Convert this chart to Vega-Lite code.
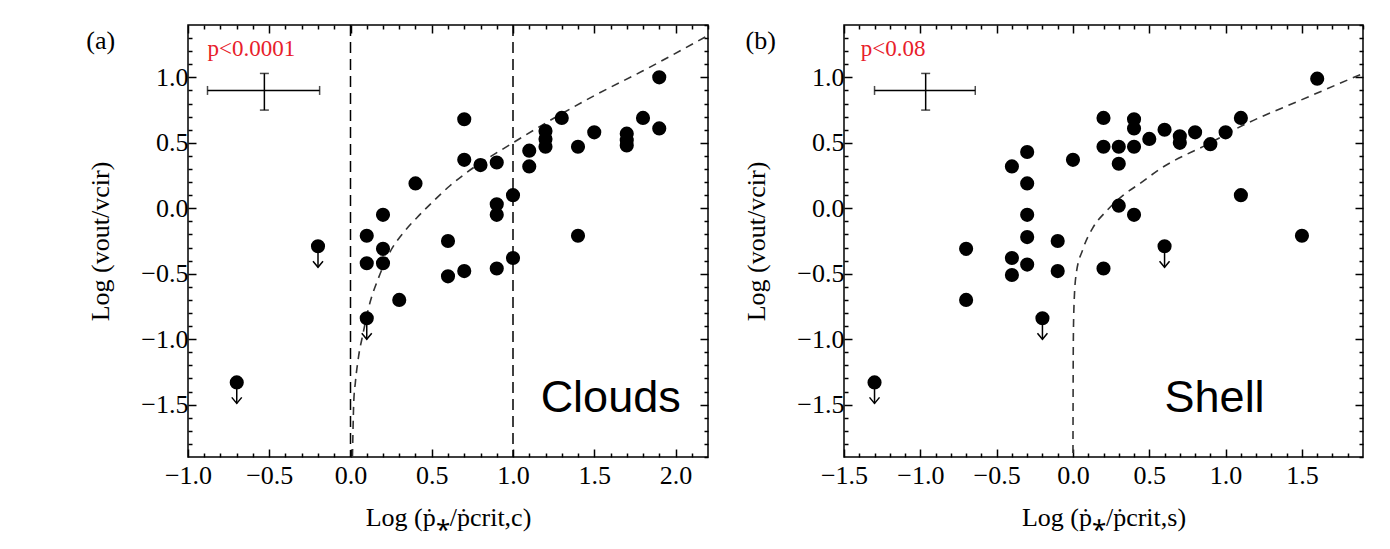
{
  "$schema": "https://vega.github.io/schema/vega-lite/v6.json",
  "background": "white",
  "padding": {"left": 85, "top": 23, "right": 5, "bottom": 5},
  "spacing": 33,
  "datasets": {
    "a_pts": [
      {"x": -0.7, "y": -1.33, "lim": 1}, {"x": -0.2, "y": -0.29, "lim": 1}, {"x": 0.1, "y": -0.84, "lim": 1},
      {"x": 0.1, "y": -0.21, "lim": 0}, {"x": 0.1, "y": -0.42, "lim": 0}, {"x": 0.2, "y": -0.05, "lim": 0},
      {"x": 0.2, "y": -0.31, "lim": 0}, {"x": 0.2, "y": -0.42, "lim": 0}, {"x": 0.3, "y": -0.70, "lim": 0},
      {"x": 0.4, "y": 0.19, "lim": 0}, {"x": 0.6, "y": -0.25, "lim": 0}, {"x": 0.6, "y": -0.52, "lim": 0},
      {"x": 0.7, "y": 0.68, "lim": 0}, {"x": 0.7, "y": 0.37, "lim": 0}, {"x": 0.7, "y": -0.48, "lim": 0},
      {"x": 0.8, "y": 0.33, "lim": 0}, {"x": 0.9, "y": 0.35, "lim": 0}, {"x": 0.9, "y": 0.03, "lim": 0},
      {"x": 0.9, "y": -0.05, "lim": 0}, {"x": 0.9, "y": -0.46, "lim": 0}, {"x": 1.0, "y": 0.10, "lim": 0},
      {"x": 1.0, "y": -0.38, "lim": 0}, {"x": 1.1, "y": 0.44, "lim": 0}, {"x": 1.1, "y": 0.32, "lim": 0},
      {"x": 1.2, "y": 0.59, "lim": 0}, {"x": 1.2, "y": 0.53, "lim": 0}, {"x": 1.2, "y": 0.47, "lim": 0},
      {"x": 1.3, "y": 0.69, "lim": 0}, {"x": 1.4, "y": 0.47, "lim": 0}, {"x": 1.4, "y": -0.21, "lim": 0},
      {"x": 1.5, "y": 0.58, "lim": 0}, {"x": 1.7, "y": 0.57, "lim": 0}, {"x": 1.7, "y": 0.52, "lim": 0},
      {"x": 1.7, "y": 0.48, "lim": 0}, {"x": 1.8, "y": 0.69, "lim": 0}, {"x": 1.9, "y": 1.0, "lim": 0},
      {"x": 1.9, "y": 0.61, "lim": 0}
    ],
    "b_pts": [
      {"x": -1.3, "y": -1.33, "lim": 1}, {"x": -0.7, "y": -0.31, "lim": 0}, {"x": -0.7, "y": -0.70, "lim": 0},
      {"x": -0.4, "y": 0.32, "lim": 0}, {"x": -0.4, "y": -0.38, "lim": 0}, {"x": -0.4, "y": -0.51, "lim": 0},
      {"x": -0.3, "y": 0.43, "lim": 0}, {"x": -0.3, "y": 0.19, "lim": 0}, {"x": -0.3, "y": -0.05, "lim": 0},
      {"x": -0.3, "y": -0.22, "lim": 0}, {"x": -0.3, "y": -0.43, "lim": 0}, {"x": -0.2, "y": -0.84, "lim": 1},
      {"x": -0.1, "y": -0.25, "lim": 0}, {"x": -0.1, "y": -0.48, "lim": 0}, {"x": 0.0, "y": 0.37, "lim": 0},
      {"x": 0.2, "y": 0.69, "lim": 0}, {"x": 0.2, "y": 0.47, "lim": 0}, {"x": 0.2, "y": -0.46, "lim": 0},
      {"x": 0.3, "y": 0.47, "lim": 0}, {"x": 0.3, "y": 0.34, "lim": 0}, {"x": 0.3, "y": 0.02, "lim": 0},
      {"x": 0.4, "y": 0.68, "lim": 0}, {"x": 0.4, "y": 0.61, "lim": 0}, {"x": 0.4, "y": 0.47, "lim": 0},
      {"x": 0.4, "y": -0.05, "lim": 0}, {"x": 0.5, "y": 0.53, "lim": 0}, {"x": 0.6, "y": 0.60, "lim": 0},
      {"x": 0.6, "y": -0.29, "lim": 1}, {"x": 0.7, "y": 0.55, "lim": 0}, {"x": 0.7, "y": 0.50, "lim": 0},
      {"x": 0.8, "y": 0.58, "lim": 0}, {"x": 0.9, "y": 0.49, "lim": 0}, {"x": 1.0, "y": 0.58, "lim": 0},
      {"x": 1.1, "y": 0.69, "lim": 0}, {"x": 1.1, "y": 0.10, "lim": 0}, {"x": 1.5, "y": -0.21, "lim": 0},
      {"x": 1.6, "y": 0.99, "lim": 0}
    ],
    "a_curve": [
      {"x": 0.012, "y": -1.9}, {"x": 0.015, "y": -1.72}, {"x": 0.02, "y": -1.48}, {"x": 0.03, "y": -1.33},
      {"x": 0.05, "y": -1.13}, {"x": 0.075, "y": -0.97}, {"x": 0.12, "y": -0.72}, {"x": 0.17, "y": -0.54},
      {"x": 0.245, "y": -0.33}, {"x": 0.33, "y": -0.18}, {"x": 0.41, "y": -0.07}, {"x": 0.49, "y": 0.03},
      {"x": 0.61, "y": 0.17}, {"x": 0.69, "y": 0.25}, {"x": 1.0, "y": 0.50}, {"x": 1.5, "y": 0.86},
      {"x": 1.8, "y": 1.05}, {"x": 2.2, "y": 1.32}
    ],
    "b_curve": [
      {"x": 0.0, "y": -1.87}, {"x": 0.002, "y": -1.07}, {"x": 0.006, "y": -0.77}, {"x": 0.02, "y": -0.51},
      {"x": 0.066, "y": -0.31}, {"x": 0.13, "y": -0.15}, {"x": 0.22, "y": -0.02}, {"x": 0.33, "y": 0.10},
      {"x": 0.44, "y": 0.19}, {"x": 0.57, "y": 0.30}, {"x": 0.9, "y": 0.50}, {"x": 1.09, "y": 0.62},
      {"x": 1.5, "y": 0.83}, {"x": 1.9, "y": 1.03}
    ],
    "a_vlines": [{"x": 0}, {"x": 1}],
    "a_err": [{"xc": -0.53, "xlo": -0.88, "xhi": -0.19, "yc": 0.9, "ylo": 0.75, "yhi": 1.03}],
    "b_err": [{"xc": -0.965, "xlo": -1.30, "xhi": -0.64, "yc": 0.9, "ylo": 0.75, "yhi": 1.03}],
    "a_p": [{"x": -0.88, "y": 1.16, "label": "p<0.0001"}],
    "b_p": [{"x": -1.39, "y": 1.16, "label": "p<0.08"}],
    "a_name": [{"x": 1.17, "y": -1.56, "label": "Clouds"}],
    "b_name": [{"x": 0.6, "y": -1.56, "label": "Shell"}],
    "a_tag": [{"x": -1.626, "y": 1.375, "label": "(a)"}],
    "b_tag": [{"x": -2.145, "y": 1.375, "label": "(b)"}]
  },
  "hconcat": [
    {
      "width": 520,
      "height": 432,
      "layer": [
        {
          "layer": [
            {
              "data": {"name": "a_vlines"},
              "mark": {"type": "rule", "strokeDash": [11, 6], "strokeWidth": 1.5, "color": "black"},
              "encoding": {"x": {"field": "x", "type": "quantitative", "title": "Log (ṗ⁎/ṗcrit,c)"}}
            },
            {
              "data": {"name": "a_curve"},
              "mark": {"type": "line", "strokeDash": [8, 6], "strokeWidth": 1.6, "color": "#333333", "interpolate": "monotone", "clip": true},
              "encoding": {"x": {"field": "x", "type": "quantitative", "title": "Log (ṗ⁎/ṗcrit,c)"}, "y": {"field": "y", "type": "quantitative", "title": "Log (vout/vcir)"}}
            },
            {
              "data": {"name": "a_err"},
              "mark": {"type": "errorbar", "ticks": {"size": 9, "color": "black"}, "color": "black", "thickness": 1.5},
              "encoding": {"x": {"field": "xlo", "type": "quantitative", "title": "Log (ṗ⁎/ṗcrit,c)"}, "x2": {"field": "xhi"}, "y": {"field": "yc", "type": "quantitative", "title": "Log (vout/vcir)"}}
            },
            {
              "data": {"name": "a_err"},
              "mark": {"type": "errorbar", "ticks": {"size": 9, "color": "black"}, "color": "black", "thickness": 1.5},
              "encoding": {"y": {"field": "ylo", "type": "quantitative", "title": "Log (vout/vcir)"}, "y2": {"field": "yhi"}, "x": {"field": "xc", "type": "quantitative", "title": "Log (ṗ⁎/ṗcrit,c)"}}
            },
            {
              "data": {"name": "a_pts"},
              "mark": {"type": "circle", "size": 200, "opacity": 1, "color": "black"},
              "encoding": {
                "x": {
                  "field": "x", "type": "quantitative", "title": "Log (ṗ⁎/ṗcrit,c)",
                  "scale": {"domain": [-1.0, 2.2], "nice": false, "zero": false},
                  "axis": {
                    "orient": "bottom",
                    "values": [-1, -0.5, 0, 0.5, 1, 1.5, 2],
                    "format": ".1f",
                    "labelOverlap": false,
                    "labelBound": false,
                    "tickSize": -8,
                    "labelPadding": 13,
                    "titlePadding": 16
                  }
                },
                "y": {
                  "field": "y", "type": "quantitative", "title": "Log (vout/vcir)",
                  "scale": {"domain": [-1.9, 1.4], "nice": false, "zero": false},
                  "axis": {
                    "orient": "left",
                    "values": [-1.5, -1, -0.5, 0, 0.5, 1],
                    "format": ".1f",
                    "labelOverlap": false,
                    "labelBound": false,
                    "tickSize": -8,
                    "labelPadding": 8,
                    "titlePadding": 27
                  }
                }
              }
            },
            {
              "data": {"name": "a_pts"},
              "transform": [{"filter": "datum.lim == 1"}],
              "mark": {"type": "rule", "strokeWidth": 1.5, "color": "black", "y2Offset": 21},
              "encoding": {"x": {"field": "x", "type": "quantitative", "title": "Log (ṗ⁎/ṗcrit,c)"}, "y": {"field": "y", "type": "quantitative", "title": "Log (vout/vcir)"}, "y2": {"field": "y"}}
            },
            {
              "data": {"name": "a_pts"},
              "transform": [{"filter": "datum.lim == 1"}],
              "mark": {"type": "point", "shape": "M-1,-1.2L0,0L1,-1.2", "filled": false, "size": 100, "strokeWidth": 1.5, "color": "black", "opacity": 1, "yOffset": 21},
              "encoding": {"x": {"field": "x", "type": "quantitative", "title": "Log (ṗ⁎/ṗcrit,c)"}, "y": {"field": "y", "type": "quantitative", "title": "Log (vout/vcir)"}}
            },
            {
              "data": {"name": "a_p"},
              "mark": {"type": "text", "align": "left", "baseline": "alphabetic", "font": "Liberation Serif", "fontSize": 23, "color": "#e8202a"},
              "encoding": {"x": {"field": "x", "type": "quantitative", "title": "Log (ṗ⁎/ṗcrit,c)"}, "y": {"field": "y", "type": "quantitative", "title": "Log (vout/vcir)"}, "text": {"field": "label"}}
            },
            {
              "data": {"name": "a_name"},
              "mark": {"type": "text", "align": "left", "baseline": "alphabetic", "font": "Liberation Sans", "fontSize": 45, "color": "black"},
              "encoding": {"x": {"field": "x", "type": "quantitative", "title": "Log (ṗ⁎/ṗcrit,c)"}, "y": {"field": "y", "type": "quantitative", "title": "Log (vout/vcir)"}, "text": {"field": "label"}}
            },
            {
              "data": {"name": "a_tag"},
              "mark": {"type": "text", "align": "left", "baseline": "top", "font": "Liberation Serif", "fontSize": 26, "color": "black", "clip": false},
              "encoding": {"x": {"field": "x", "type": "quantitative", "title": "Log (ṗ⁎/ṗcrit,c)"}, "y": {"field": "y", "type": "quantitative", "title": "Log (vout/vcir)"}, "text": {"field": "label"}}
            }
          ]
        },
        {
          "data": {"name": "a_pts"},
          "mark": {"type": "point", "opacity": 0},
          "encoding": {
            "x": {
              "field": "x", "type": "quantitative",
              "scale": {"domain": [-1.0, 2.2], "nice": false, "zero": false},
              "axis": {
                "orient": "top", "labels": false, "title": null,
                "values": [-1, -0.9, -0.8, -0.7, -0.6, -0.5, -0.4, -0.3, -0.2, -0.1, 0, 0.1, 0.2, 0.3, 0.4, 0.5, 0.6, 0.7, 0.8, 0.9, 1, 1.1, 1.2, 1.3, 1.4, 1.5, 1.6, 1.7, 1.8, 1.9, 2, 2.1, 2.2],
                "tickSize": -8,
                "tickDash": {"condition": {"test": "abs(datum.value*2-round(datum.value*2)) > 0.01", "value": [4, 100]}, "value": []}
              }
            },
            "y": {
              "field": "y", "type": "quantitative",
              "scale": {"domain": [-1.9, 1.4], "nice": false, "zero": false},
              "axis": {
                "orient": "right", "labels": false, "title": null,
                "values": [-1.9, -1.8, -1.7, -1.6, -1.5, -1.4, -1.3, -1.2, -1.1, -1, -0.9, -0.8, -0.7, -0.6, -0.5, -0.4, -0.3, -0.2, -0.1, 0, 0.1, 0.2, 0.3, 0.4, 0.5, 0.6, 0.7, 0.8, 0.9, 1, 1.1, 1.2, 1.3, 1.4],
                "tickSize": -8,
                "tickDash": {"condition": {"test": "abs(datum.value*2-round(datum.value*2)) > 0.01", "value": [4, 100]}, "value": []}
              }
            }
          }
        },
        {
          "data": {"name": "a_pts"},
          "mark": {"type": "point", "opacity": 0},
          "encoding": {
            "x": {
              "field": "x", "type": "quantitative",
              "scale": {"domain": [-1.0, 2.2], "nice": false, "zero": false},
              "axis": {
                "orient": "bottom", "labels": false, "title": null,
                "values": [-0.9, -0.8, -0.7, -0.6, -0.4, -0.3, -0.2, -0.1, 0.1, 0.2, 0.3, 0.4, 0.6, 0.7, 0.8, 0.9, 1.1, 1.2, 1.3, 1.4, 1.6, 1.7, 1.8, 1.9, 2.1],
                "tickSize": -4
              }
            },
            "y": {
              "field": "y", "type": "quantitative",
              "scale": {"domain": [-1.9, 1.4], "nice": false, "zero": false},
              "axis": {
                "orient": "left", "labels": false, "title": null,
                "values": [-1.8, -1.7, -1.6, -1.4, -1.3, -1.2, -1.1, -0.9, -0.8, -0.7, -0.6, -0.4, -0.3, -0.2, -0.1, 0.1, 0.2, 0.3, 0.4, 0.6, 0.7, 0.8, 0.9, 1.1, 1.2, 1.3],
                "tickSize": -4
              }
            }
          }
        }
      ],
      "resolve": {"axis": {"x": "independent", "y": "independent"}}
    },
    {
      "width": 519,
      "height": 432,
      "layer": [
        {
          "layer": [
            {
              "data": {"name": "b_curve"},
              "mark": {"type": "line", "strokeDash": [8, 6], "strokeWidth": 1.6, "color": "#333333", "interpolate": "monotone", "clip": true},
              "encoding": {"x": {"field": "x", "type": "quantitative", "title": "Log (ṗ⁎/ṗcrit,s)"}, "y": {"field": "y", "type": "quantitative", "title": "Log (vout/vcir)"}}
            },
            {
              "data": {"name": "b_err"},
              "mark": {"type": "errorbar", "ticks": {"size": 9, "color": "black"}, "color": "black", "thickness": 1.5},
              "encoding": {"x": {"field": "xlo", "type": "quantitative", "title": "Log (ṗ⁎/ṗcrit,s)"}, "x2": {"field": "xhi"}, "y": {"field": "yc", "type": "quantitative", "title": "Log (vout/vcir)"}}
            },
            {
              "data": {"name": "b_err"},
              "mark": {"type": "errorbar", "ticks": {"size": 9, "color": "black"}, "color": "black", "thickness": 1.5},
              "encoding": {"y": {"field": "ylo", "type": "quantitative", "title": "Log (vout/vcir)"}, "y2": {"field": "yhi"}, "x": {"field": "xc", "type": "quantitative", "title": "Log (ṗ⁎/ṗcrit,s)"}}
            },
            {
              "data": {"name": "b_pts"},
              "mark": {"type": "circle", "size": 200, "opacity": 1, "color": "black"},
              "encoding": {
                "x": {
                  "field": "x", "type": "quantitative", "title": "Log (ṗ⁎/ṗcrit,s)",
                  "scale": {"domain": [-1.5, 1.9], "nice": false, "zero": false},
                  "axis": {
                    "orient": "bottom",
                    "values": [-1.5, -1, -0.5, 0, 0.5, 1, 1.5],
                    "format": ".1f",
                    "labelOverlap": false,
                    "labelBound": false,
                    "tickSize": -8,
                    "labelPadding": 13,
                    "titlePadding": 16
                  }
                },
                "y": {
                  "field": "y", "type": "quantitative", "title": "Log (vout/vcir)",
                  "scale": {"domain": [-1.9, 1.4], "nice": false, "zero": false},
                  "axis": {
                    "orient": "left",
                    "values": [-1.5, -1, -0.5, 0, 0.5, 1],
                    "format": ".1f",
                    "labelOverlap": false,
                    "labelBound": false,
                    "tickSize": -8,
                    "labelPadding": 8,
                    "titlePadding": 27
                  }
                }
              }
            },
            {
              "data": {"name": "b_pts"},
              "transform": [{"filter": "datum.lim == 1"}],
              "mark": {"type": "rule", "strokeWidth": 1.5, "color": "black", "y2Offset": 21},
              "encoding": {"x": {"field": "x", "type": "quantitative", "title": "Log (ṗ⁎/ṗcrit,s)"}, "y": {"field": "y", "type": "quantitative", "title": "Log (vout/vcir)"}, "y2": {"field": "y"}}
            },
            {
              "data": {"name": "b_pts"},
              "transform": [{"filter": "datum.lim == 1"}],
              "mark": {"type": "point", "shape": "M-1,-1.2L0,0L1,-1.2", "filled": false, "size": 100, "strokeWidth": 1.5, "color": "black", "opacity": 1, "yOffset": 21},
              "encoding": {"x": {"field": "x", "type": "quantitative", "title": "Log (ṗ⁎/ṗcrit,s)"}, "y": {"field": "y", "type": "quantitative", "title": "Log (vout/vcir)"}}
            },
            {
              "data": {"name": "b_p"},
              "mark": {"type": "text", "align": "left", "baseline": "alphabetic", "font": "Liberation Serif", "fontSize": 23, "color": "#e8202a"},
              "encoding": {"x": {"field": "x", "type": "quantitative", "title": "Log (ṗ⁎/ṗcrit,s)"}, "y": {"field": "y", "type": "quantitative", "title": "Log (vout/vcir)"}, "text": {"field": "label"}}
            },
            {
              "data": {"name": "b_name"},
              "mark": {"type": "text", "align": "left", "baseline": "alphabetic", "font": "Liberation Sans", "fontSize": 45, "color": "black"},
              "encoding": {"x": {"field": "x", "type": "quantitative", "title": "Log (ṗ⁎/ṗcrit,s)"}, "y": {"field": "y", "type": "quantitative", "title": "Log (vout/vcir)"}, "text": {"field": "label"}}
            },
            {
              "data": {"name": "b_tag"},
              "mark": {"type": "text", "align": "left", "baseline": "top", "font": "Liberation Serif", "fontSize": 26, "color": "black", "clip": false},
              "encoding": {"x": {"field": "x", "type": "quantitative", "title": "Log (ṗ⁎/ṗcrit,s)"}, "y": {"field": "y", "type": "quantitative", "title": "Log (vout/vcir)"}, "text": {"field": "label"}}
            }
          ]
        },
        {
          "data": {"name": "b_pts"},
          "mark": {"type": "point", "opacity": 0},
          "encoding": {
            "x": {
              "field": "x", "type": "quantitative",
              "scale": {"domain": [-1.5, 1.9], "nice": false, "zero": false},
              "axis": {
                "orient": "top", "labels": false, "title": null,
                "values": [-1.5, -1.4, -1.3, -1.2, -1.1, -1, -0.9, -0.8, -0.7, -0.6, -0.5, -0.4, -0.3, -0.2, -0.1, 0, 0.1, 0.2, 0.3, 0.4, 0.5, 0.6, 0.7, 0.8, 0.9, 1, 1.1, 1.2, 1.3, 1.4, 1.5, 1.6, 1.7, 1.8, 1.9],
                "tickSize": -8,
                "tickDash": {"condition": {"test": "abs(datum.value*2-round(datum.value*2)) > 0.01", "value": [4, 100]}, "value": []}
              }
            },
            "y": {
              "field": "y", "type": "quantitative",
              "scale": {"domain": [-1.9, 1.4], "nice": false, "zero": false},
              "axis": {
                "orient": "right", "labels": false, "title": null,
                "values": [-1.9, -1.8, -1.7, -1.6, -1.5, -1.4, -1.3, -1.2, -1.1, -1, -0.9, -0.8, -0.7, -0.6, -0.5, -0.4, -0.3, -0.2, -0.1, 0, 0.1, 0.2, 0.3, 0.4, 0.5, 0.6, 0.7, 0.8, 0.9, 1, 1.1, 1.2, 1.3, 1.4],
                "tickSize": -8,
                "tickDash": {"condition": {"test": "abs(datum.value*2-round(datum.value*2)) > 0.01", "value": [4, 100]}, "value": []}
              }
            }
          }
        },
        {
          "data": {"name": "b_pts"},
          "mark": {"type": "point", "opacity": 0},
          "encoding": {
            "x": {
              "field": "x", "type": "quantitative",
              "scale": {"domain": [-1.5, 1.9], "nice": false, "zero": false},
              "axis": {
                "orient": "bottom", "labels": false, "title": null,
                "values": [-1.4, -1.3, -1.2, -1.1, -0.9, -0.8, -0.7, -0.6, -0.4, -0.3, -0.2, -0.1, 0.1, 0.2, 0.3, 0.4, 0.6, 0.7, 0.8, 0.9, 1.1, 1.2, 1.3, 1.4, 1.6, 1.7, 1.8],
                "tickSize": -4
              }
            },
            "y": {
              "field": "y", "type": "quantitative",
              "scale": {"domain": [-1.9, 1.4], "nice": false, "zero": false},
              "axis": {
                "orient": "left", "labels": false, "title": null,
                "values": [-1.8, -1.7, -1.6, -1.4, -1.3, -1.2, -1.1, -0.9, -0.8, -0.7, -0.6, -0.4, -0.3, -0.2, -0.1, 0.1, 0.2, 0.3, 0.4, 0.6, 0.7, 0.8, 0.9, 1.1, 1.2, 1.3],
                "tickSize": -4
              }
            }
          }
        }
      ],
      "resolve": {"axis": {"x": "independent", "y": "independent"}}
    }
  ],
  "config": {
    "view": {"stroke": "black", "strokeWidth": 1.5},
    "axis": {
      "labelFont": "Liberation Serif", "titleFont": "Liberation Serif",
      "labelFontSize": 26, "titleFontSize": 26, "titleFontWeight": "normal",
      "labelColor": "black", "titleColor": "black", "tickColor": "black", "tickWidth": 1.5,
      "grid": false, "domain": false, "labelFlush": false, "labelOverlap": false
    }
  }
}
